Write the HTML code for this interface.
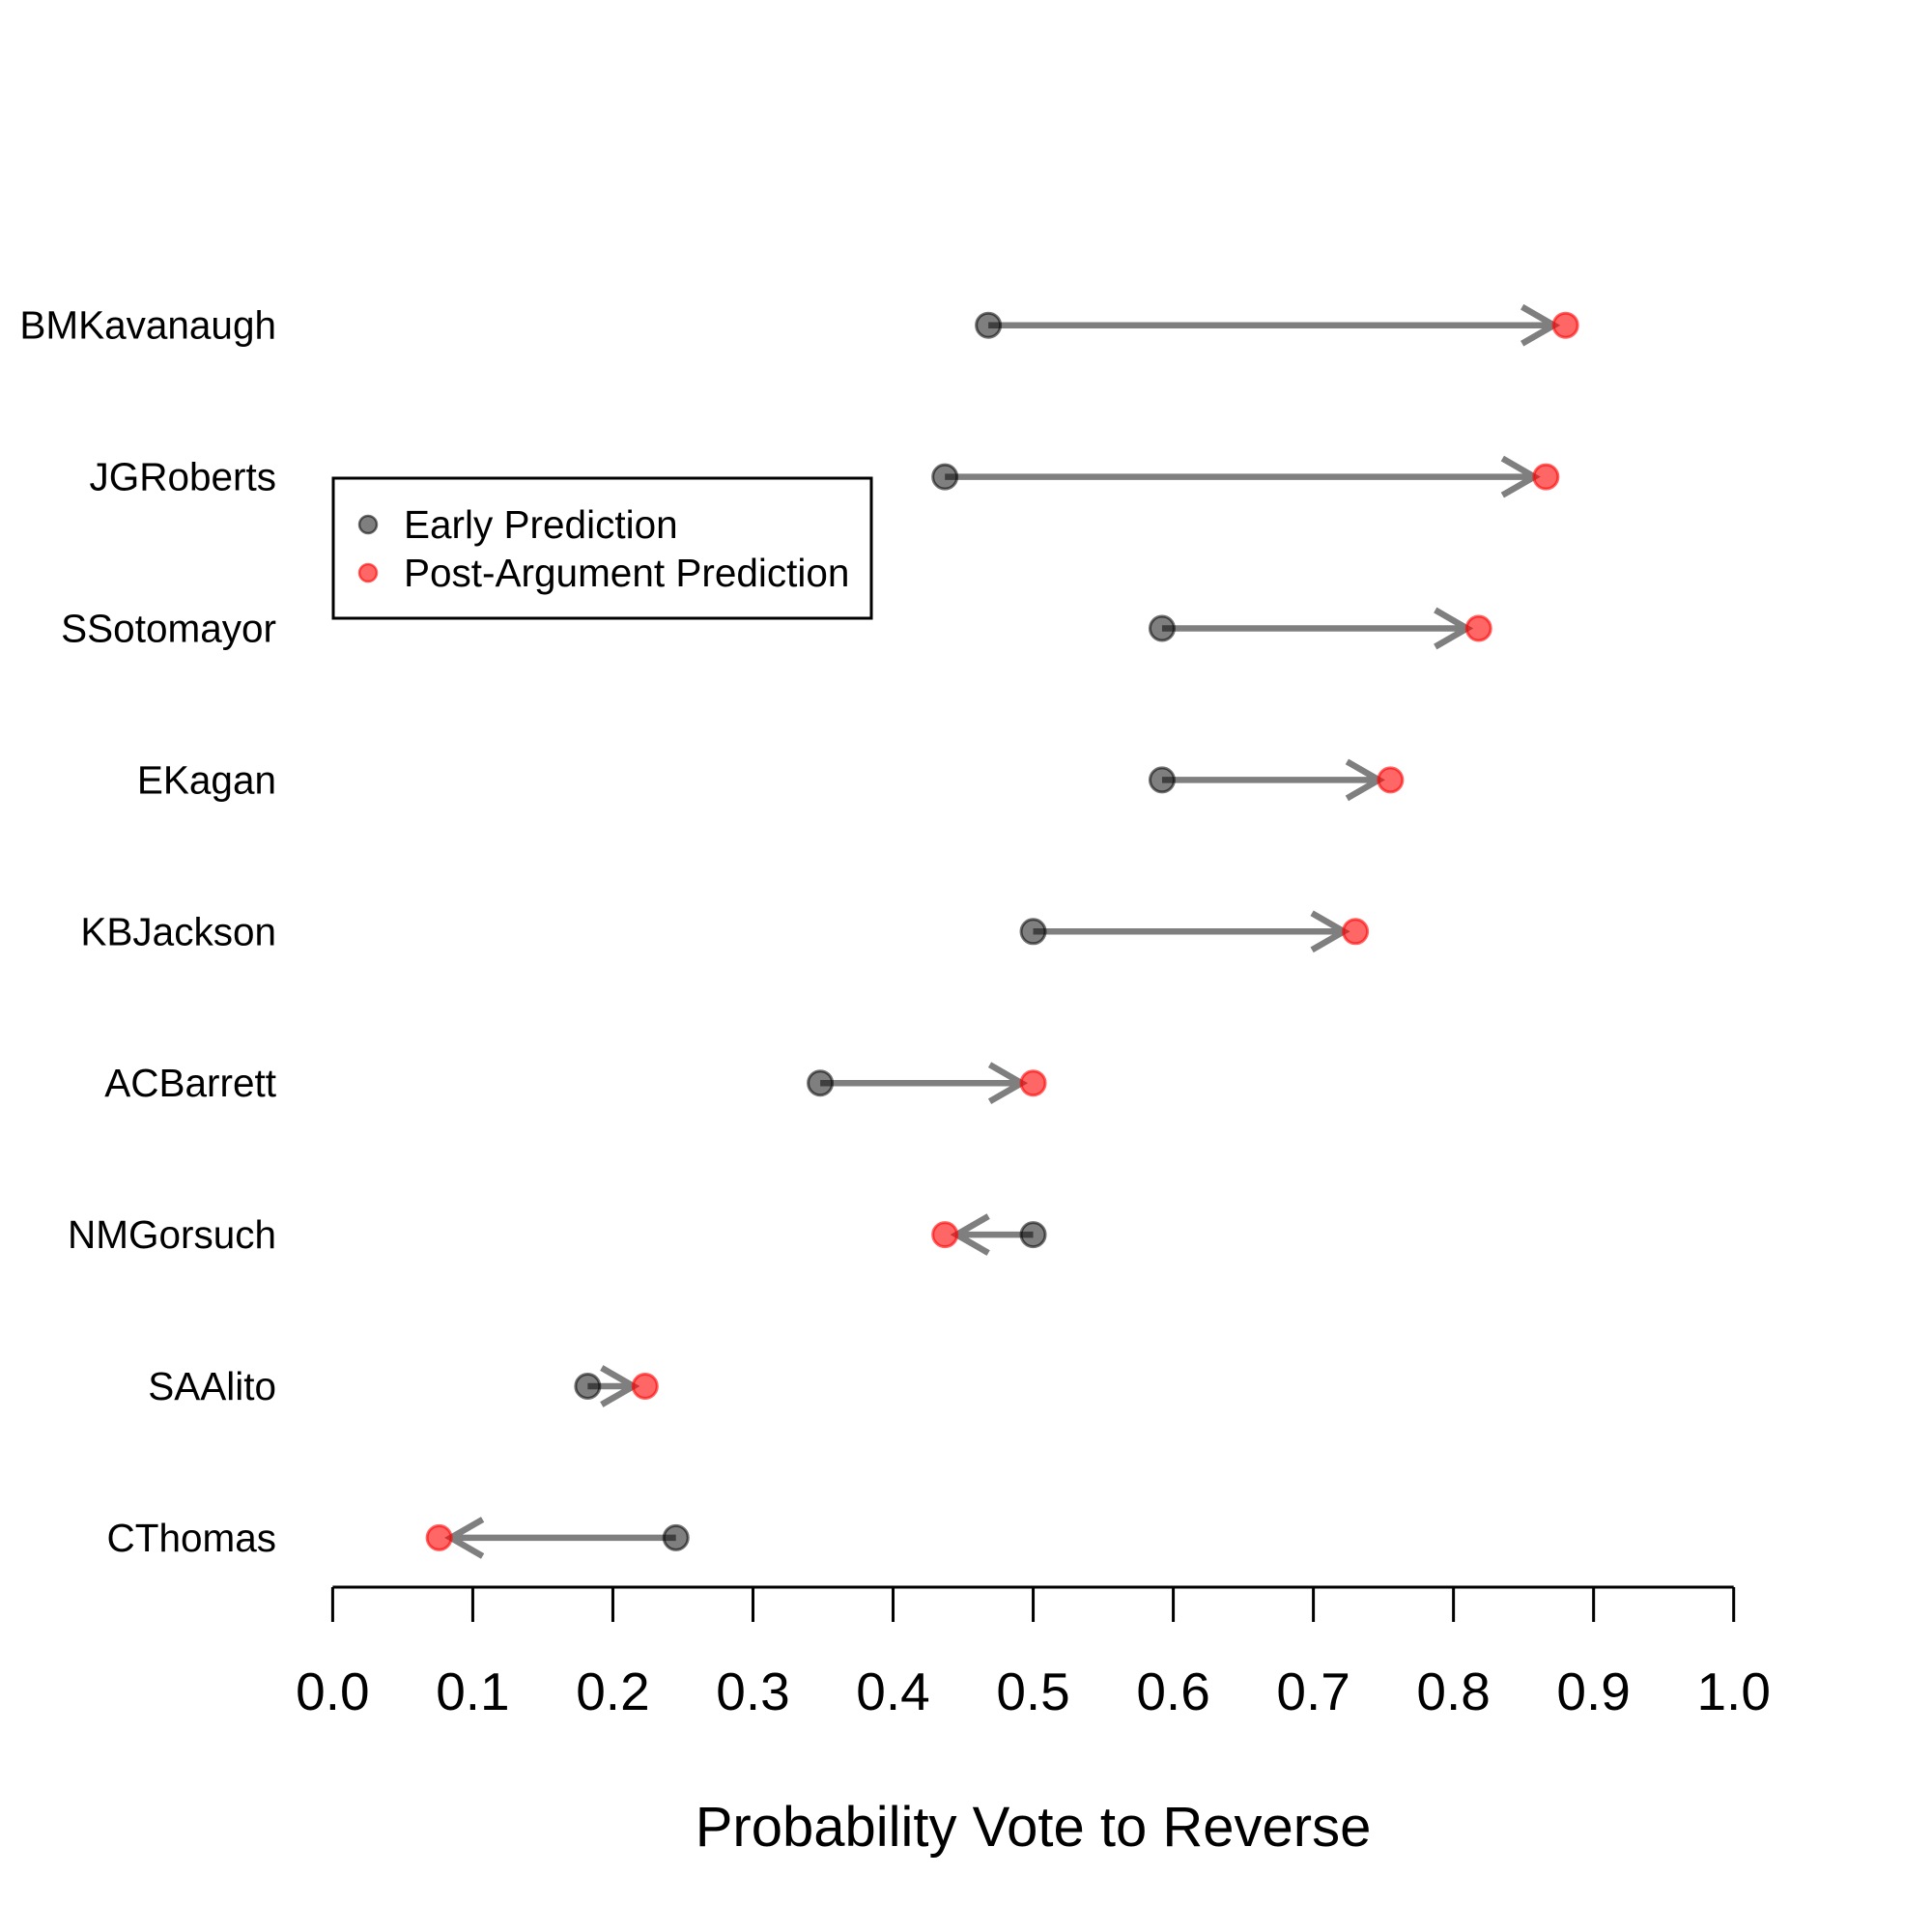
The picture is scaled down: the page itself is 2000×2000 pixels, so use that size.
<!DOCTYPE html>
<html><head><meta charset="utf-8"><style>
html,body{margin:0;padding:0;background:#fff;}
svg{display:block;font-family:"Liberation Sans",Arial,sans-serif;}
</style></head><body>
<svg id="chart" width="2000" height="2000" viewBox="0 0 2000 2000" xmlns="http://www.w3.org/2000/svg">
<g id="plot"></g>
</svg>
<script>
const justices = ["BMKavanaugh","JGRoberts","SSotomayor","EKagan","KBJackson","ACBarrett","NMGorsuch","SAAlito","CThomas"];
const earlyPred = [0.468,0.437,0.592,0.592,0.500,0.348,0.500,0.182,0.245];
const postPred = [0.880,0.866,0.818,0.755,0.730,0.500,0.437,0.223,0.076];
const xTicks = ["0.0","0.1","0.2","0.3","0.4","0.5","0.6","0.7","0.8","0.9","1.0"];

const NS="http://www.w3.org/2000/svg";
const g=document.getElementById('plot');
const X0=344.4,X1=1794.7,Ytop=336.7,Ystep=156.9;
function xs(v){return X0+(X1-X0)*v;}
function ys(i){return Ytop+Ystep*i;}
function mk(tag,attrs,parent){const e=document.createElementNS(NS,tag);for(const k in attrs)e.setAttribute(k,attrs[k]);(parent||g).appendChild(e);return e;}

const axis=mk('g',{});


const al=mk('line',{x1:X0,y1:1643,x2:X1,y2:1643,stroke:'#000','stroke-width':3},axis);


xTicks.forEach((t,i)=>{
  const v=parseFloat(t);
  const tk=mk('line',{x1:xs(v),y1:1643,x2:xs(v),y2:1679,stroke:'#000','stroke-width':3},axis);
  
  
  const tl=mk('text',{x:xs(v),y:1770,'text-anchor':'middle','font-size':55,fill:'#000'},axis);
  tl.textContent=t;
  
  
});
const title=mk('text',{x:(X0+X1)/2,y:1911,'text-anchor':'middle','font-size':58,fill:'#000'});
title.textContent='Probability Vote to Reverse';



justices.forEach((n,i)=>{
  const y=ys(i);
  const lab=mk('text',{x:286,y:y+14,'text-anchor':'end','font-size':40.5,fill:'#000'});
  lab.textContent=n;
  
  
  const xa=xs(earlyPred[i]),xb=xs(postPred[i]);
  const dir=xb>xa?1:-1;
  const tip=xb-dir*12;
  const ar=mk('path',{d:`M${xa} ${y} L${tip} ${y} M${tip-dir*33} ${y-19} L${tip} ${y} L${tip-dir*33} ${y+19}`,fill:'none',stroke:'rgba(0,0,0,0.5)','stroke-width':6.5,'stroke-linejoin':'miter'});
  
  
  const c1=mk('circle',{cx:xa,cy:y,r:12.5,fill:'rgba(0,0,0,0.5)',stroke:'rgba(0,0,0,0.55)','stroke-width':3});
  
  
  const c2=mk('circle',{cx:xb,cy:y,r:12.5,fill:'rgba(255,0,0,0.6)',stroke:'rgba(255,0,0,0.6)','stroke-width':3});
  
  
});

const lg=mk('g',{});


const box=mk('rect',{x:345,y:495,width:557,height:145,fill:'#fff',stroke:'#000','stroke-width':3},lg);


const d1=mk('circle',{cx:381,cy:543,r:9,fill:'rgba(0,0,0,0.5)',stroke:'rgba(0,0,0,0.55)','stroke-width':2.5},lg);


const t1=mk('text',{x:418,y:557,'font-size':40.5,fill:'#000'},lg);
t1.textContent='Early Prediction';


const d2=mk('circle',{cx:381,cy:593,r:9,fill:'rgba(255,0,0,0.6)',stroke:'rgba(255,0,0,0.6)','stroke-width':2.5},lg);


const t2=mk('text',{x:418,y:607,'font-size':40.5,fill:'#000'},lg);
t2.textContent='Post-Argument Prediction';


</script>
</body></html>
